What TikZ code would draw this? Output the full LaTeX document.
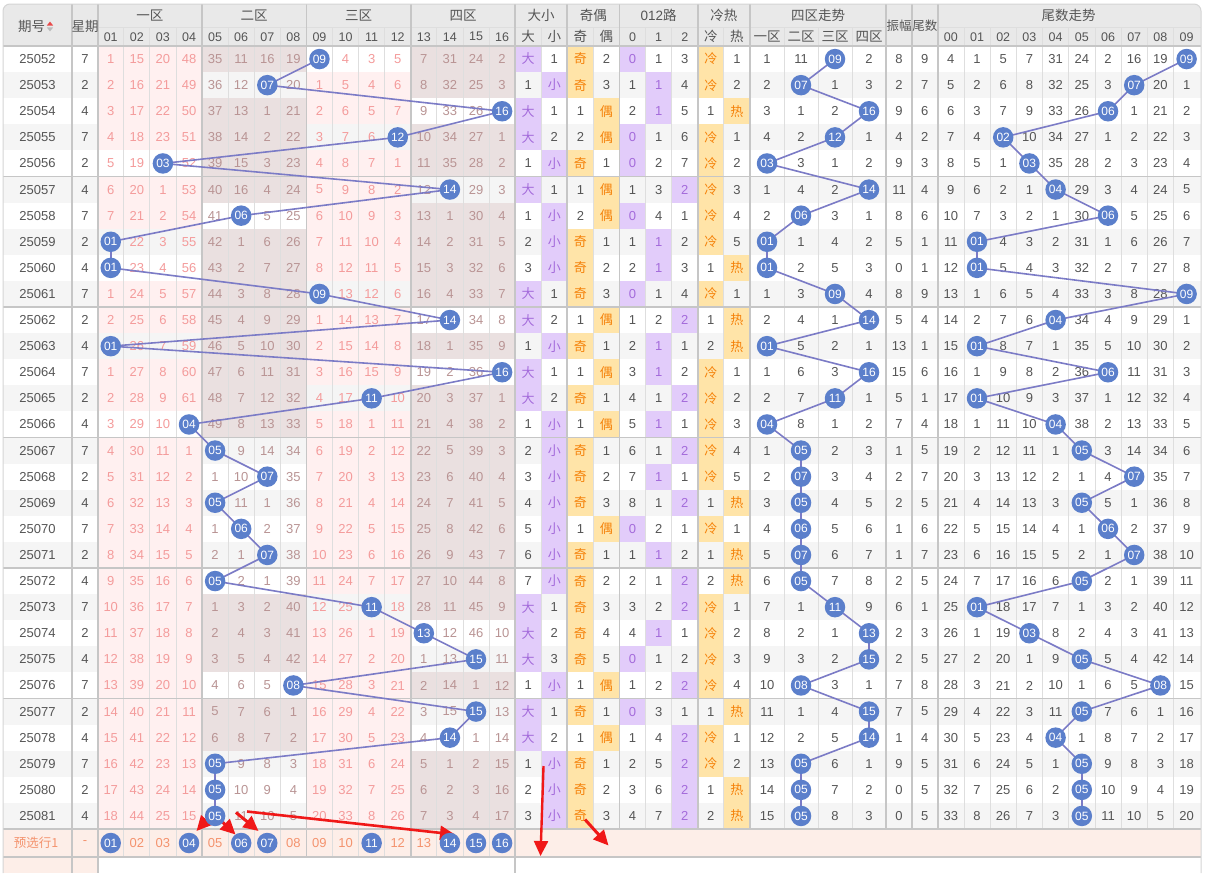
\documentclass[tikz,border=0pt]{standalone}
\usepackage{fontspec}
\setmainfont{Liberation Sans}
\newfontfamily\cjk{Noto Sans CJK SC}
\usetikzlibrary{arrows.meta}
\pgfdeclarelayer{fg}
\pgfsetlayers{main,fg}
\definecolor{hdr}{HTML}{E9E9E9}
\definecolor{hdrtxt}{HTML}{555555}
\definecolor{txt}{HTML}{555555}
\definecolor{stripe}{HTML}{F5F5F5}
\definecolor{pinkbg}{HTML}{FFF0F0}
\definecolor{brownbg}{HTML}{EAE0E0}
\definecolor{pinktxt}{HTML}{F49B9B}
\definecolor{browntxt}{HTML}{B99494}
\definecolor{purplebg}{HTML}{E2CCFA}
\definecolor{purpletxt}{HTML}{A46BDB}
\definecolor{orangebg}{HTML}{FFE4A8}
\definecolor{orangetxt}{HTML}{F5820A}
\definecolor{ballc}{HTML}{5B7FCB}
\definecolor{linec}{HTML}{7B7BC6}
\definecolor{salmonbg}{HTML}{FDEEE8}
\definecolor{salmontxt}{HTML}{F4936E}
\definecolor{gridthin}{HTML}{DEDEDE}
\definecolor{gridthick}{HTML}{C6C6C6}
\definecolor{bordc}{HTML}{D5D5D5}
\definecolor{arrred}{HTML}{F01818}
\definecolor{sortred}{HTML}{E84A4A}
\definecolor{sortgray}{HTML}{BBBBBB}
\tikzset{
 cell/.style={inner sep=0pt, font=\fontsize{13}{15}\selectfont, text=txt},
 cjkcell/.style={inner sep=0pt, font=\cjk\fontsize{13}{15}\selectfont},
 ball/.style={circle, fill=ballc, inner sep=0pt, minimum size=20.5pt, text=white, font=\fontsize{12}{13}\selectfont},
 trend/.style={draw=linec, line width=1.6pt},
 redarrow/.style={draw=arrred, line width=3pt, -{Triangle[length=15pt,width=14pt]}},
 hdrtext/.style={inner sep=0pt, text=hdrtxt, font=\cjk\fontsize{13.5}{15}\selectfont},
 hdrnum/.style={inner sep=0pt, text=hdrtxt, font=\fontsize{12.5}{14}\selectfont},
 thinline/.style={draw=gridthin, line width=0.8pt},
 thickline/.style={draw=gridthick, line width=1.8pt},
}
\def\hitarr{{9,7,16,12,3,14,6,1,1,9,14,1,16,11,4,5,7,5,6,7,5,11,13,15,8,15,14,5,5,5}}
\begin{document}
\begin{tikzpicture}[x=1pt,y=-1pt]
\useasboundingbox (0,0) rectangle (1206,873);
\fill[white] (0,0) rectangle (1206,873);
% header background
\fill[hdr,rounded corners=7pt] (3,60) -- (3,4) -- (1201,4) -- (1201,60) -- cycle;
\fill[white] (3,46) rectangle (1201,829);
% ---------- main rows ----------
\foreach \id/\wk/\nl [count=\ri from 0] in {
25052/7/{1,15,20,48,35,11,16,19,0,4,3,5,7,31,24,2},
25053/2/{2,16,21,49,36,12,0,20,1,5,4,6,8,32,25,3},
25054/4/{3,17,22,50,37,13,1,21,2,6,5,7,9,33,26,0},
25055/7/{4,18,23,51,38,14,2,22,3,7,6,0,10,34,27,1},
25056/2/{5,19,0,52,39,15,3,23,4,8,7,1,11,35,28,2},
25057/4/{6,20,1,53,40,16,4,24,5,9,8,2,12,0,29,3},
25058/7/{7,21,2,54,41,0,5,25,6,10,9,3,13,1,30,4},
25059/2/{0,22,3,55,42,1,6,26,7,11,10,4,14,2,31,5},
25060/4/{0,23,4,56,43,2,7,27,8,12,11,5,15,3,32,6},
25061/7/{1,24,5,57,44,3,8,28,0,13,12,6,16,4,33,7},
25062/2/{2,25,6,58,45,4,9,29,1,14,13,7,17,0,34,8},
25063/4/{0,26,7,59,46,5,10,30,2,15,14,8,18,1,35,9},
25064/7/{1,27,8,60,47,6,11,31,3,16,15,9,19,2,36,0},
25065/2/{2,28,9,61,48,7,12,32,4,17,0,10,20,3,37,1},
25066/4/{3,29,10,0,49,8,13,33,5,18,1,11,21,4,38,2},
25067/7/{4,30,11,1,0,9,14,34,6,19,2,12,22,5,39,3},
25068/2/{5,31,12,2,1,10,0,35,7,20,3,13,23,6,40,4},
25069/4/{6,32,13,3,0,11,1,36,8,21,4,14,24,7,41,5},
25070/7/{7,33,14,4,1,0,2,37,9,22,5,15,25,8,42,6},
25071/2/{8,34,15,5,2,1,0,38,10,23,6,16,26,9,43,7},
25072/4/{9,35,16,6,0,2,1,39,11,24,7,17,27,10,44,8},
25073/7/{10,36,17,7,1,3,2,40,12,25,0,18,28,11,45,9},
25074/2/{11,37,18,8,2,4,3,41,13,26,1,19,0,12,46,10},
25075/4/{12,38,19,9,3,5,4,42,14,27,2,20,1,13,0,11},
25076/7/{13,39,20,10,4,6,5,0,15,28,3,21,2,14,1,12},
25077/2/{14,40,21,11,5,7,6,1,16,29,4,22,3,15,0,13},
25078/4/{15,41,22,12,6,8,7,2,17,30,5,23,4,0,1,14},
25079/7/{16,42,23,13,0,9,8,3,18,31,6,24,5,1,2,15},
25080/2/{17,43,24,14,0,10,9,4,19,32,7,25,6,2,3,16},
25081/4/{18,44,25,15,0,11,10,5,20,33,8,26,7,3,4,17}}{
 \pgfmathtruncatemacro\h{\hitarr[\ri]}
 \pgfmathsetmacro\yt{46+26.1*\ri}
 \pgfmathsetmacro\yc{\yt+13.05}
 \pgfmathtruncatemacro\oddrow{mod(\ri,2)}
 \ifnum\oddrow=1 \fill[stripe] (3,\yt) rectangle (1201,\yt+26.1); \fi
 \pgfmathtruncatemacro\zh{ceil(\h/4)}
 \foreach \z in {1,2,3,4}{
   \ifnum\z=\zh\relax\else
     \pgfmathsetmacro\xl{97.7+104.36*(\z-1)}
     \pgfmathtruncatemacro\zo{mod(\z,2)}
     \ifnum\zo=1 \def\zbg{pinkbg}\else\def\zbg{brownbg}\fi
     \fill[\zbg] (\xl,\yt) rectangle (\xl+104.36,\yt+26.1);
   \fi}
 \node[cell] (id\ri) at (37.5,\yc) {\id};
 \node[cell] (wk\ri) at (85,\yc) {\wk};
 \foreach \v [count=\cc] in \nl {
   \ifnum\cc=\h\relax\else
     \pgfmathtruncatemacro\zc{mod(ceil(\cc/4),2)}
     \ifnum\zc=1 \def\tc{pinktxt}\else\def\tc{browntxt}\fi
     \node[cell,text=\tc] (n\ri-\cc) at ({97.7+26.09*(\cc-0.5)},\yc) {\v};
   \fi}
}
% ---------- misc columns ----------
\foreach \dxo/\oeo/\rl/\chf/\cho [count=\ri from 0] in {
1/2/{0,1,3}/1/1, 1/3/{1,1,4}/1/2, 1/1/{2,1,5}/2/1, 2/2/{0,1,6}/1/1, 1/1/{0,2,7}/1/2,
1/1/{1,3,2}/1/3, 1/2/{0,4,1}/1/4, 2/1/{1,1,2}/1/5, 3/2/{2,1,3}/2/1, 1/3/{0,1,4}/1/1,
2/1/{1,2,2}/2/1, 1/1/{2,1,1}/2/2, 1/1/{3,1,2}/1/1, 2/1/{4,1,2}/1/2, 1/1/{5,1,1}/1/3,
2/1/{6,1,2}/1/4, 3/2/{7,1,1}/1/5, 4/3/{8,1,2}/2/1, 5/1/{0,2,1}/1/1, 6/1/{1,1,2}/2/1,
7/2/{2,1,2}/2/2, 1/3/{3,2,2}/1/1, 2/4/{4,1,1}/1/2, 3/5/{0,1,2}/1/3, 1/1/{1,2,2}/1/4,
1/1/{0,3,1}/2/1, 2/1/{1,4,2}/1/1, 1/1/{2,5,2}/1/2, 2/2/{3,6,2}/2/1, 3/3/{4,7,2}/2/2}{
 \pgfmathtruncatemacro\h{\hitarr[\ri]}
 \pgfmathsetmacro\yt{46+26.1*\ri}
 \pgfmathsetmacro\yc{\yt+13.05}
 \ifnum\h>8
   \fill[purplebg] (515.14,\yt) rectangle (541.23,\yt+26.1);
   \node[cjkcell,text=purpletxt] (dx\ri) at (528.2,\yc) {大};
   \node[cell] (dy\ri) at (554.3,\yc) {\dxo};
 \else
   \fill[purplebg] (541.23,\yt) rectangle (567.32,\yt+26.1);
   \node[cell] (dx\ri) at (528.2,\yc) {\dxo};
   \node[cjkcell,text=purpletxt] (dy\ri) at (554.3,\yc) {小};
 \fi
 \pgfmathtruncatemacro\od{mod(\h,2)}
 \ifnum\od=1
   \fill[orangebg] (567.32,\yt) rectangle (593.41,\yt+26.1);
   \node[cjkcell,text=orangetxt] (oa\ri) at (580.4,\yc) {奇};
   \node[cell] (ob\ri) at (606.4,\yc) {\oeo};
 \else
   \fill[orangebg] (593.41,\yt) rectangle (619.5,\yt+26.1);
   \node[cell] (oa\ri) at (580.4,\yc) {\oeo};
   \node[cjkcell,text=orangetxt] (ob\ri) at (606.4,\yc) {偶};
 \fi
 \pgfmathtruncatemacro\rmod{mod(\h,3)}
 \foreach \v [count=\cc from 0] in \rl {
   \pgfmathsetmacro\xl{619.5+26.09*\cc}
   \ifnum\cc=\rmod\relax
     \fill[purplebg] (\xl,\yt) rectangle (\xl+26.09,\yt+26.1);
     \node[cell,text=purpletxt] (rd\ri-\cc) at (\xl+13.05,\yc) {\v};
   \else
     \node[cell] (rd\ri-\cc) at (\xl+13.05,\yc) {\v};
   \fi}
 \ifnum\chf=1
   \fill[orangebg] (697.77,\yt) rectangle (723.86,\yt+26.1);
   \node[cjkcell,text=orangetxt] (ca\ri) at (710.8,\yc) {冷};
   \node[cell] (cb\ri) at (736.9,\yc) {\cho};
 \else
   \fill[orangebg] (723.86,\yt) rectangle (749.95,\yt+26.1);
   \node[cell] (ca\ri) at (710.8,\yc) {\cho};
   \node[cjkcell,text=orangetxt] (cb\ri) at (736.9,\yc) {热};
 \fi
}
% ---------- zone / amplitude / tail columns ----------
\foreach \amp/\zl/\tl [count=\ri from 0] in {
8/{1,11,0,2}/{4,1,5,7,31,24,2,16,19,0},
2/{2,0,1,3}/{5,2,6,8,32,25,3,0,20,1},
9/{3,1,2,0}/{6,3,7,9,33,26,0,1,21,2},
4/{4,2,0,1}/{7,4,0,10,34,27,1,2,22,3},
9/{0,3,1,2}/{8,5,1,0,35,28,2,3,23,4},
11/{1,4,2,0}/{9,6,2,1,0,29,3,4,24,5},
8/{2,0,3,1}/{10,7,3,2,1,30,0,5,25,6},
5/{0,1,4,2}/{11,0,4,3,2,31,1,6,26,7},
0/{0,2,5,3}/{12,0,5,4,3,32,2,7,27,8},
8/{1,3,0,4}/{13,1,6,5,4,33,3,8,28,0},
5/{2,4,1,0}/{14,2,7,6,0,34,4,9,29,1},
13/{0,5,2,1}/{15,0,8,7,1,35,5,10,30,2},
15/{1,6,3,0}/{16,1,9,8,2,36,0,11,31,3},
5/{2,7,0,1}/{17,0,10,9,3,37,1,12,32,4},
7/{0,8,1,2}/{18,1,11,10,0,38,2,13,33,5},
1/{1,0,2,3}/{19,2,12,11,1,0,3,14,34,6},
2/{2,0,3,4}/{20,3,13,12,2,1,4,0,35,7},
2/{3,0,4,5}/{21,4,14,13,3,0,5,1,36,8},
1/{4,0,5,6}/{22,5,15,14,4,1,0,2,37,9},
1/{5,0,6,7}/{23,6,16,15,5,2,1,0,38,10},
2/{6,0,7,8}/{24,7,17,16,6,0,2,1,39,11},
6/{7,1,0,9}/{25,0,18,17,7,1,3,2,40,12},
2/{8,2,1,0}/{26,1,19,0,8,2,4,3,41,13},
2/{9,3,2,0}/{27,2,20,1,9,0,5,4,42,14},
7/{10,0,3,1}/{28,3,21,2,10,1,6,5,0,15},
7/{11,1,4,0}/{29,4,22,3,11,0,7,6,1,16},
1/{12,2,5,0}/{30,5,23,4,0,1,8,7,2,17},
9/{13,0,6,1}/{31,6,24,5,1,0,9,8,3,18},
0/{14,0,7,2}/{32,7,25,6,2,0,10,9,4,19},
0/{15,0,8,3}/{33,8,26,7,3,0,11,10,5,20}}{
 \pgfmathtruncatemacro\h{\hitarr[\ri]}
 \pgfmathsetmacro\yc{59.05+26.1*\ri}
 \pgfmathtruncatemacro\zh{ceil(\h/4)}
 \pgfmathtruncatemacro\td{mod(\h,10)}
 \foreach \v [count=\cc] in \zl {
   \ifnum\cc=\zh\relax\else
     \node[cell] (zv\ri-\cc) at ({750+34*(\cc-0.5)},\yc) {\v};
   \fi}
 \node[cell] (am\ri) at (899,\yc) {\amp};
 \node[cell] (tn\ri) at (924.8,\yc) {\td};
 \foreach \v [count=\cc from 0] in \tl {
   \ifnum\cc=\td\relax\else
     \node[cell] (tv\ri-\cc) at ({937.7+26.2*(\cc+0.5)},\yc) {\v};
   \fi}
}
% ---------- final row ----------
\fill[salmonbg] (3,829) rectangle (1201,857);
\fill[salmonbg] (3,857) rectangle (97.7,873);
\node[cjkcell,text=salmontxt,font=\cjk\fontsize{12.5}{14}\selectfont] (plab) at (36,843) {预选行1};
\node[cell,text=salmontxt] (pdash) at (85,843) {-};
\foreach \v in {2,3,5,8,9,10,12,13}{
  \node[cell,text=salmontxt] (q\v) at ({97.7+26.09*(\v-0.5)},843) {\ifnum\v<10 0\fi\v};}
% ---------- grid lines ----------
\foreach \k in {1,2,3,5,6,7,9,10,11,13,14,15}{
  \draw[thinline] ({97.7+26.09*\k},27) -- ({97.7+26.09*\k},857);}
\foreach \k in {17,19,21,22,24}{
  \draw[thinline] ({97.7+26.09*\k},27) -- ({97.7+26.09*\k},829);}
\foreach \x in {784,818,852}{\draw[thinline] (\x,27) -- (\x,829);}
\foreach \d in {1,...,9}{\draw[thinline] ({937.7+26.2*\d},27) -- ({937.7+26.2*\d},829);}
\draw[thinline] (97.7,27) -- (886,27);
\draw[thinline] (937.7,27) -- (1201,27);
\draw[thickline] (3,46) -- (1201,46);
\foreach \k in {1,...,6}{\draw[thickline] (3,{46+26.1*5*\k}) -- (1201,{46+26.1*5*\k});}
\draw[thickline] (3,857) -- (1201,857);
\foreach \x in {72,97.7,515.14}{\draw[thickline] (\x,4) -- (\x,873);}
\foreach \x in {202.06,306.42,410.78}{\draw[thickline] (\x,4) -- (\x,857);}
\foreach \x in {567.32,619.5,697.77,749.95,886,912,937.7}{\draw[thickline] (\x,4) -- (\x,829);}
\draw[bordc,line width=1pt,rounded corners=7pt] (3,873) -- (3,4) -- (1201,4) -- (1201,873);
% ---------- header texts ----------
\node[hdrtext] (hqh) at (31.5,26) {期号};
\fill[sortred] (46.8,25.6) -- (53.2,25.6) -- (50,21.6) -- cycle;
\fill[sortgray] (46.8,27.4) -- (53.2,27.4) -- (50,31.4) -- cycle;
\node[hdrtext] (hxq) at (85,26) {星期};
\node[hdrtext] (hz1) at (149.9,15.7) {一区};
\node[hdrtext] (hz2) at (254.2,15.7) {二区};
\node[hdrtext] (hz3) at (358.6,15.7) {三区};
\node[hdrtext] (hz4) at (463,15.7) {四区};
\node[hdrtext] (hdx) at (541.2,15.7) {大小};
\node[hdrtext] (hjo) at (593.4,15.7) {奇偶};
\node[hdrtext] (hlu) at (658.6,15.7) {\fontspec{Liberation Sans}012\cjk 路};
\node[hdrtext] (hlr) at (723.9,15.7) {冷热};
\node[hdrtext] (hqs) at (818,15.7) {四区走势};
\node[hdrtext,font=\cjk\fontsize{12.5}{14}\selectfont] (hzf) at (899,26) {振幅};
\node[hdrtext,font=\cjk\fontsize{12.5}{14}\selectfont] (hws) at (924.8,26) {尾数};
\node[hdrtext] (hwz) at (1068.7,15.7) {尾数走势};
\foreach \k in {1,...,16}{
  \node[hdrnum] (hn\k) at ({97.7+26.09*(\k-0.5)},36.7) {\ifnum\k<10 0\fi\k};}
\foreach \t [count=\k] in {大,小,奇,偶}{
  \node[hdrtext] (hm\k) at ({515.14+26.09*(\k-0.5)},36.7) {\t};}
\foreach \t [count=\k from 0] in {0,1,2}{
  \node[hdrnum] (hr\k) at ({619.5+26.09*(\k+0.5)},36.7) {\t};}
\node[hdrtext] (hc1) at (710.8,36.7) {冷};
\node[hdrtext] (hc2) at (736.9,36.7) {热};
\foreach \t [count=\k] in {一区,二区,三区,四区}{
  \node[hdrtext] (hq\k) at ({750+34*(\k-0.5)},36.7) {\t};}
\foreach \d in {0,...,9}{
  \node[hdrnum] (ht\d) at ({937.7+26.2*(\d+0.5)},36.7) {0\d};}
% ---------- balls ----------
\begin{pgfonlayer}{fg}
\foreach \ri in {0,...,29}{
 \pgfmathtruncatemacro\h{\hitarr[\ri]}
 \pgfmathsetmacro\yc{59.05+26.1*\ri}
 \pgfmathtruncatemacro\zh{ceil(\h/4)}
 \pgfmathtruncatemacro\td{mod(\h,10)}
 \node[ball] (m\ri) at ({97.7+26.09*(\h-0.5)},\yc) {\ifnum\h<10 0\fi\h};
 \node[ball] (z\ri) at ({750+34*(\zh-0.5)},\yc) {\ifnum\h<10 0\fi\h};
 \node[ball] (t\ri) at ({937.7+26.2*(\td+0.5)},\yc) {0\td};
}
\foreach \v in {1,4,6,7,11,14,15,16}{
  \node[ball] (p\v) at ({97.7+26.09*(\v-0.5)},843) {\ifnum\v<10 0\fi\v};}
\end{pgfonlayer}
% ---------- trend lines ----------
\foreach \ri in {0,...,28}{
 \pgfmathtruncatemacro\rn{\ri+1}
 \draw[trend] (m\ri.center) -- (m\rn.center);
 \draw[trend] (z\ri.center) -- (z\rn.center);
 \draw[trend] (t\ri.center) -- (t\rn.center);
}
% ---------- red arrows ----------
\coordinate (a1) at (206,820.5);  \coordinate (b1) at (196.5,831);
\coordinate (a2) at (222,821.5);  \coordinate (b2) at (235.5,834.5);
\coordinate (a3) at (236,812.5);  \coordinate (b3) at (258.5,831);
\coordinate (a4) at (247,811.5);  \coordinate (b4) at (455,834.5);
\coordinate (a5) at (543.5,766);  \coordinate (b5) at (540.5,856);
\coordinate (a6) at (585,819.5);  \coordinate (b6) at (608.5,845.5);
\draw[redarrow] (a1) -- (b1);
\draw[redarrow] (a2) -- (b2);
\draw[redarrow] (a3) -- (b3);
\draw[redarrow,line width=2.6pt] (a4) -- (b4);
\draw[redarrow,line width=2.4pt] (a5) -- (b5);
\draw[redarrow] (a6) -- (b6);
\end{tikzpicture}
\end{document}
